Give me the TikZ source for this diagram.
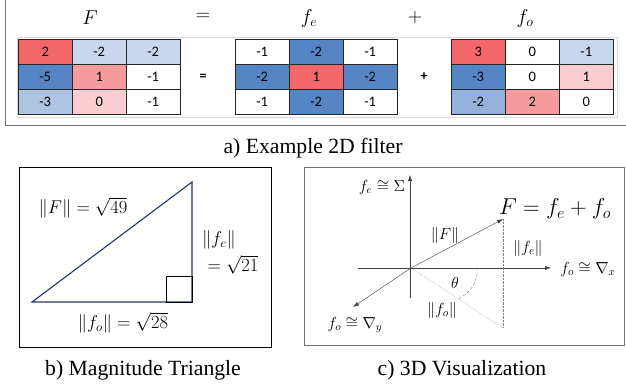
\RequirePackage{fix-cm}
\documentclass[tikz,border=0pt]{standalone}
\usepackage{fontspec}
\setmainfont{Liberation Serif}
\newfontfamily\cellfont{Carlito}
\usetikzlibrary{arrows.meta,positioning}
\definecolor{redA}{HTML}{F4676B}
\definecolor{redB}{HTML}{F79C9E}
\definecolor{redC}{HTML}{F9CDD1}
\definecolor{blueA}{HTML}{5585C4}
\definecolor{blueB}{HTML}{C9D7EC}
\definecolor{blueC}{HTML}{AFC3E3}
\definecolor{blueD}{HTML}{93B1DA}
\definecolor{navy}{HTML}{1F3864}
\tikzset{
  cell/.style = {rectangle, draw=black!85, thin, minimum width=54pt, minimum height=25pt,
    inner sep=0pt, anchor=north west, font=\cellfont\fontsize{14.5}{14.5}\selectfont},
  head/.style = {font=\fontsize{20}{20}\selectfont},
  sign/.style = {font=\cellfont\bfseries\fontsize{14}{14}\selectfont},
  caption/.style = {font=\fontsize{21.7}{24}\selectfont},
  lbl/.style = {font=\fontsize{18.5}{20}\selectfont, inner sep=1pt},
  small/.style = {font=\fontsize{16}{18}\selectfont, inner sep=1pt},
  panel/.style = {draw=black!55, thin},
  axis/.style = {black!75, thin, -{Latex[length=6pt,width=4pt]}},
  guide/.style = {black!50, densely dotted, thin},
  tri/.style = {draw=navy, line width=1.1pt}
}
\begin{document}
\begin{tikzpicture}[x=1pt, y=-1pt]
\useasboundingbox (0,0) rectangle (626,389);

% a) example filter
\draw[panel] (5,-3) |- (630,125);
\draw[black!15] (17,37) rectangle (617,117);

\node[head] (hF)  at (90,18)  {$F$};
\node[head] (hEq) at (203,17) {$=$};
\node[head] (hFe) at (309,18) {$f_e$};
\node[head] (hPl) at (415,17) {$+$};
\node[head] (hFo) at (525,18) {$f_o$};

\foreach \c/\r/\v/\col in {0/0/2/redA, 1/0/-2/blueB, 2/0/-2/blueB,
                           0/1/-5/blueA, 1/1/1/redB, 2/1/-1/white,
                           0/2/-3/blueC, 1/2/0/redC, 2/2/-1/white}
  \node[cell, fill=\col] (F-\r-\c) at ({18+54*\c},{39+25*\r}) {\v};

\foreach \c/\r/\v/\col in {0/0/-1/white, 1/0/-2/blueA, 2/0/-1/white,
                           0/1/-2/blueA, 1/1/1/redA, 2/1/-2/blueA,
                           0/2/-1/white, 1/2/-2/blueA, 2/2/-1/white}
  \node[cell, fill=\col] (fe-\r-\c) at ({235+54*\c},{39+25*\r}) {\v};

\foreach \c/\r/\v/\col in {0/0/3/redA, 1/0/0/white, 2/0/-1/blueB,
                           0/1/-3/blueA, 1/1/0/white, 2/1/1/redC,
                           0/2/-2/blueD, 1/2/2/redB, 2/2/0/white}
  \node[cell, fill=\col] (fo-\r-\c) at ({451+54*\c},{39+25*\r}) {\v};

\node[sign] (eq) at (203,77) {=};
\node[sign] (pl) at (424,77) {+};

\node[caption] (capA) at (313,148) {a) Example 2D filter};

% b) magnitude triangle
\draw[black] (19,167) rectangle (271,347);
\coordinate (ta) at (32,302);
\coordinate (tb) at (192,302);
\coordinate (tc) at (192,182);
\draw[tri] (ta) -- (tb) -- (tc) -- cycle;
\draw[black] (166,276) rectangle (tb);

\node[lbl] (nF)  at (83,208)  {$\|F\| = \sqrt{49}$};
\node[lbl] (nFe) at (219,240) {$\|f_e\|$};
\node[lbl] (vFe) at (233,265) {$= \sqrt{21}$};
\node[lbl] (nFo) at (123,323) {$\|f_o\| = \sqrt{28}$};

\node[caption] (capB) at (143,370) {b) Magnitude Triangle};

% c) 3D visualization
\draw[panel] (304,167) rectangle (624,345);
\coordinate (o)    at (411,268);
\coordinate (ytop) at (410,175);
\coordinate (ybot) at (410,298);
\coordinate (xl)   at (358,268);
\coordinate (xr)   at (551,268);
\coordinate (dg)   at (353,307);
\coordinate (Fv)   at (503,219);
\coordinate (ft)   at (503,328);
\coordinate (a0)   at (477,268);
\coordinate (a1)   at (458,299);

\draw[axis] (ybot) -- (ytop);
\draw[axis] (xl) -- (xr);
\draw[axis] (o) -- (dg);
\draw[axis] (o) -- (Fv);
\draw[guide] (Fv) -- (ft);
\draw[guide] (o) -- (ft);
\draw[guide, densely dashed] (a0) .. controls (478,283) and (470,293) .. (a1);

\node[small] (ey) at (382,187) {$f_e \cong \Sigma$};
\node[small] (ex) at (588,269) {$f_o \cong \nabla_x$};
\node[small] (ed) at (355,325) {$f_o \cong \nabla_y$};
\node[lbl, font=\fontsize{23}{25}\selectfont] (eqF) at (555,209) {$F = f_e + f_o$};
\node[small] (mF)  at (445,235) {$\|F\|$};
\node[small] (mFe) at (528,248) {$\|f_e\|$};
\node[small] (th)  at (455,283) {$\theta$};
\node[small] (mFo) at (442,310) {$\|f_o\|$};

\node[caption] (capC) at (462,370) {c) 3D Visualization};
\end{tikzpicture}
\end{document}
